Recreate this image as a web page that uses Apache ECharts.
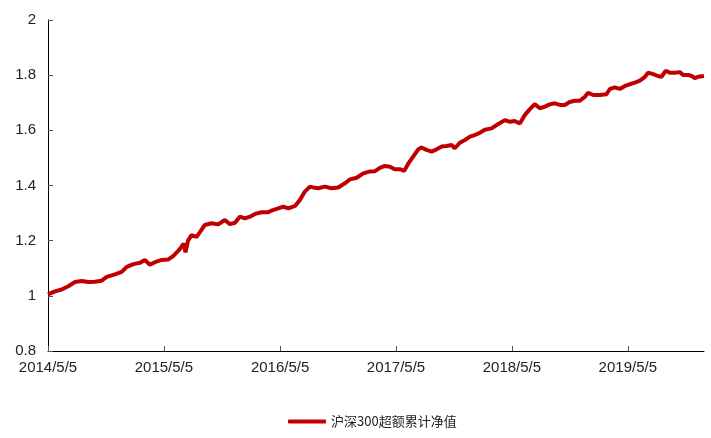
<!DOCTYPE html>
<html>
<head>
<meta charset="utf-8">
<script src="https://cdn.jsdelivr.net/npm/echarts@6/dist/echarts.min.js"></script>
<style>
html,body{margin:0;padding:0;background:#fff;}
#main{width:711px;height:438px;}
</style>
</head>
<body>
<div id="main"></div>
<script>
var seriesName = '沪深300超额累计净值';
var tickDates = ['2014-05-05','2015-05-05','2016-05-05','2017-05-05','2018-05-05','2019-05-05'];
var yTicks = [0.8, 1, 1.2, 1.4, 1.6, 1.8, 2];
var dates = [
'2014-05-05','2014-05-27','2014-06-17','2014-07-08','2014-07-29','2014-08-19','2014-09-09','2014-09-30','2014-10-21','2014-11-06',
'2014-12-02','2014-12-23','2015-01-08','2015-01-29','2015-02-19','2015-03-06','2015-03-22','2015-04-07','2015-04-28','2015-05-19',
'2015-06-03','2015-06-19','2015-06-28','2015-07-06','2015-07-12','2015-07-20','2015-07-31','2015-08-16','2015-08-27','2015-09-11',
'2015-10-02','2015-10-23','2015-11-13','2015-11-29','2015-12-15','2015-12-30','2016-01-15','2016-01-31','2016-02-16','2016-03-08',
'2016-03-29','2016-04-08','2016-04-29','2016-05-15','2016-05-31','2016-06-21','2016-07-06','2016-07-22','2016-08-07','2016-08-17',
'2016-09-02','2016-09-23','2016-10-14','2016-11-04','2016-11-25','2016-12-11','2017-01-01','2017-01-22','2017-02-12','2017-02-28',
'2017-03-15','2017-03-31','2017-04-16','2017-05-01','2017-05-17','2017-05-31','2017-06-12','2017-06-28','2017-07-14','2017-07-24',
'2017-08-09','2017-08-25','2017-09-10','2017-09-26','2017-10-11','2017-10-27','2017-11-06','2017-11-22','2017-12-08','2017-12-24',
'2018-01-08','2018-01-24','2018-02-09','2018-03-02','2018-03-23','2018-04-13','2018-04-29','2018-05-14','2018-05-30','2018-06-15',
'2018-06-30','2018-07-16','2018-08-01','2018-08-17','2018-09-01','2018-09-17','2018-10-03','2018-10-19','2018-11-03','2018-11-19',
'2018-12-05','2018-12-21','2018-12-31','2019-01-16','2019-02-06','2019-02-27','2019-03-09','2019-03-25','2019-04-10','2019-04-26',
'2019-05-11','2019-05-27','2019-06-12','2019-06-28','2019-07-08','2019-07-24','2019-08-08','2019-08-19','2019-09-01','2019-09-14',
'2019-09-30','2019-10-16','2019-10-26','2019-11-11','2019-11-22','2019-12-02','2019-12-12','2019-12-31'
];
var values = [
1.005,1.016,1.023,1.035,1.050,1.054,1.050,1.051,1.055,1.069,
1.078,1.087,1.105,1.115,1.120,1.130,1.113,1.122,1.130,1.132,
1.144,1.163,1.175,1.190,1.158,1.200,1.220,1.214,1.232,1.257,
1.263,1.259,1.275,1.260,1.265,1.287,1.281,1.287,1.297,1.303,
1.303,1.309,1.317,1.323,1.317,1.326,1.347,1.378,1.396,1.393,
1.390,1.396,1.390,1.393,1.408,1.422,1.428,1.444,1.451,1.452,
1.464,1.471,1.468,1.459,1.459,1.453,1.478,1.505,1.531,1.538,
1.529,1.523,1.531,1.541,1.543,1.547,1.535,1.555,1.565,1.577,
1.583,1.591,1.602,1.607,1.623,1.637,1.631,1.634,1.625,1.656,
1.676,1.695,1.680,1.686,1.694,1.698,1.692,1.692,1.703,1.707,
1.707,1.722,1.736,1.728,1.728,1.731,1.749,1.756,1.750,1.761,
1.767,1.773,1.780,1.794,1.809,1.804,1.797,1.794,1.816,1.809,
1.809,1.811,1.801,1.801,1.797,1.789,1.794,1.797
];

function ts(s){var p=s.split('-');return new Date(+p[0],+p[1]-1,+p[2]).getTime();}
function fmt(v){var d=new Date(v);return d.getFullYear()+'/'+(d.getMonth()+1)+'/'+d.getDate();}

var data = dates.map(function(d,i){return [ts(d), values[i]];});
var tickVals = tickDates.map(ts);
var font = "Arial, 'Liberation Sans', 'Noto Sans CJK SC', sans-serif";

var chart = echarts.init(document.getElementById('main'), null, {renderer:'canvas'});
chart.setOption({
  animation:false,
  backgroundColor:'#fff',
  grid:{left:48, right:7, top:20, bottom:87, containLabel:false},
  xAxis:{
    type:'value',
    scale:true,
    min:ts('2014-05-05'),
    max:ts('2019-12-31'),
    axisLine:{lineStyle:{color:'#000', width:1}},
    axisTick:{show:true, inside:true, length:5, lineStyle:{color:'#555'}, customValues:tickVals},
    axisLabel:{customValues:tickVals, formatter:function(v){return fmt(v);}, color:'#222', fontSize:15, fontFamily:font, margin:9, hideOverlap:false},
    splitLine:{show:false}
  },
  yAxis:{
    type:'value',
    min:yTicks[0], max:yTicks[yTicks.length-1], interval:0.2,
    axisLine:{show:true, lineStyle:{color:'#000', width:1}},
    axisTick:{show:true, inside:true, length:5, lineStyle:{color:'#555'}},
    axisLabel:{color:'#222', fontSize:15, fontFamily:font, margin:12, formatter:function(v){return String(+v.toFixed(1));}},
    splitLine:{show:false}
  },
  legend:{
    data:[{name:seriesName, icon:'roundRect'}],
    left:283, top:410,
    itemWidth:38, itemHeight:4, itemGap:10,
    textStyle:{fontSize:13, color:'#222', fontFamily:"'Noto Sans CJK SC', sans-serif"}
  },
  series:[{
    name:seriesName,
    type:'line',
    data:data,
    symbol:'none',
    smooth:false,
    lineStyle:{color:'#C00000', width:4},
    itemStyle:{color:'#C00000'}
  }]
});
</script>
</body>
</html>
